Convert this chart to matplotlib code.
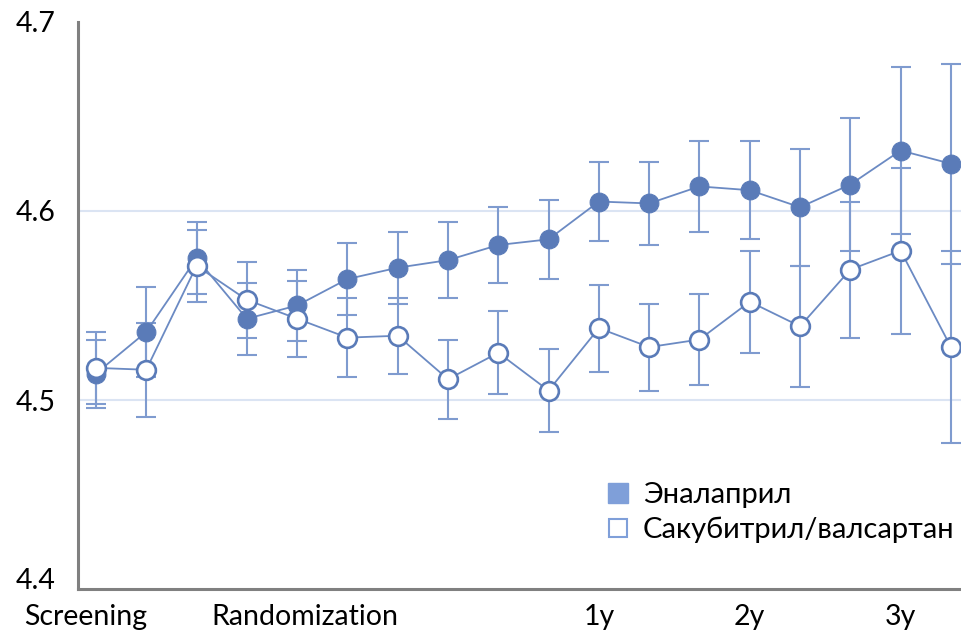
import matplotlib
matplotlib.use("Agg")
import matplotlib.pyplot as plt
from matplotlib.lines import Line2D
import numpy as np

plt.rcParams['font.family'] = ['Lato', 'Open Sans', 'DejaVu Sans']

# Visits: screening, run-in, randomization and follow-up (18 time points)
visit = np.arange(18)

enalapril = [4.514, 4.536, 4.575, 4.543, 4.550, 4.564, 4.570, 4.574, 4.582,
             4.585, 4.605, 4.604, 4.613, 4.611, 4.602, 4.614, 4.632, 4.625]
enalapril_err = [0.018, 0.024, 0.019, 0.019, 0.019, 0.019, 0.019, 0.020, 0.020,
                 0.021, 0.021, 0.022, 0.024, 0.026, 0.031, 0.035, 0.044, 0.053]

sacubitril = [4.517, 4.516, 4.571, 4.553, 4.543, 4.533, 4.534, 4.511, 4.525,
              4.505, 4.538, 4.528, 4.532, 4.552, 4.539, 4.569, 4.579, 4.528]
sacubitril_err = [0.019, 0.025, 0.019, 0.020, 0.020, 0.021, 0.020, 0.021, 0.022,
                  0.022, 0.023, 0.023, 0.024, 0.027, 0.032, 0.036, 0.044, 0.051]

tick_pos = [-0.2, 4.15, 10, 13, 16]
tick_labels = ['Screening', 'Randomization', '1y', '2y', '3y']

dark = '#5a7bb8'
err_col = '#7f9bcf'
line_col = '#6b8ac3'

fig = plt.figure(figsize=(9.62, 6.35), dpi=100)
ax = fig.add_axes([0.081, 0.0724, 0.919, 0.893])

for vals, errs, face in [(enalapril, enalapril_err, dark),
                         (sacubitril, sacubitril_err, 'white')]:
    ax.errorbar(visit, vals, yerr=errs, fmt='none', ecolor=err_col,
                elinewidth=1.5, capsize=7.5, capthick=1.5, zorder=2)
    ax.plot(visit, vals, color=line_col, linewidth=1.3, zorder=3)
    ax.plot(visit, vals, linestyle='none', marker='o', markersize=13.5,
            markerfacecolor=face, markeredgecolor=dark,
            markeredgewidth=1.9 if face == 'white' else 0.8, zorder=4)

for y in (4.5, 4.6):
    ax.axhline(y, color='#dbe4f3', linewidth=1.5, zorder=1)

ax.set_xlim(-0.358, 17.22)
ax.set_ylim(4.4, 4.7)
ax.set_yticks([4.4, 4.5, 4.6, 4.7])
ax.set_yticklabels(['4.4', '4.5', '4.6', '4.7'])
ax.set_xticks(tick_pos)
ax.set_xticklabels(tick_labels)
ax.tick_params(axis='both', length=0, labelsize=20.5, colors='black')
ax.tick_params(axis='y', pad=16)
ax.tick_params(axis='x', pad=10.5)

# bottom y label sits on the axis line so it clears the x labels
ax.get_yticklabels()[0].set_verticalalignment('baseline')

for side in ('top', 'right'):
    ax.spines[side].set_visible(False)
for side in ('left', 'bottom'):
    ax.spines[side].set_color('#808080')
    ax.spines[side].set_linewidth(2.2)

handles = [
    Line2D([], [], linestyle='none', marker='s', markersize=14,
           markerfacecolor='#7f9fd9', markeredgecolor='#7f9fd9'),
    Line2D([], [], linestyle='none', marker='s', markersize=13,
           markerfacecolor='white', markeredgecolor='#7f9fd9', markeredgewidth=1.5),
]
ax.legend(handles, ['Эналаприл', 'Сакубитрил/валсартан'], loc='lower left',
          bbox_to_anchor=(0.565, 0.035), frameon=False, fontsize=21,
          handletextpad=0.35, labelspacing=0.3, handlelength=1.0)

fig.savefig('out.png', dpi=100)
